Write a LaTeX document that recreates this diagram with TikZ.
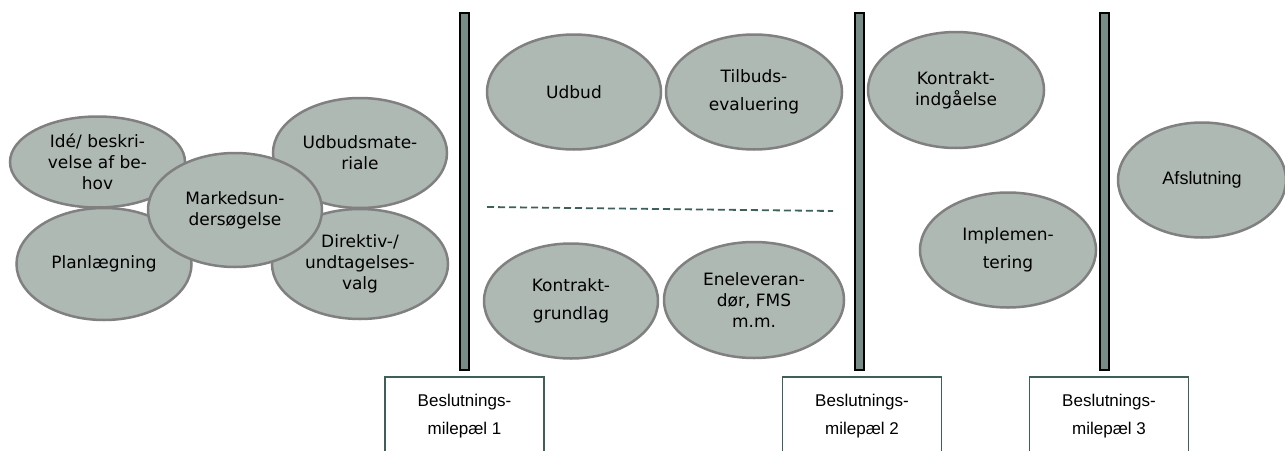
\documentclass[tikz,border=0pt]{standalone}
\usepackage{fontspec}
\setmainfont{DejaVu Sans}
\newfontfamily\boxfont{Liberation Sans}
\usetikzlibrary{shapes.geometric}
\definecolor{phasefill}{HTML}{AEB9B4}
\definecolor{phaseline}{HTML}{808080}
\definecolor{barfill}{HTML}{778C86}
\definecolor{milegreen}{HTML}{3F5F5B}

\begin{document}
\begin{tikzpicture}[x=1pt,y=-1pt,
    phase/.style={ellipse,draw=phaseline,line width=2.5pt,fill=phasefill,inner sep=0pt,
      align=center,font=\fontsize{17}{21}\selectfont},
    gate/.style={draw=black,line width=1.2pt,fill=barfill,minimum width=9pt,minimum height=357pt,inner sep=0pt},
    milebox/.style={draw=milegreen,line width=1.5pt,fill=white,minimum width=159pt,minimum height=78pt,
      align=center,font=\boxfont\fontsize{17}{28}\selectfont}]
    \clip (0,0) rectangle (1285,450);
    % phase 1 before milestone 1
    \node[phase,minimum width=175pt,minimum height=91pt] (ide) at (97.5,162) {Idé/ beskri-\\velse af be-\\hov};
    \node[phase,minimum width=175pt,minimum height=112pt] (plan) at (104,264) {Planlægning};
    \node[phase,minimum width=174pt,minimum height=110pt] (udbmat) at (360,153) {Udbudsmate-\\riale};
    \node[phase,minimum width=176pt,minimum height=110pt] (direktiv) at (360,264) {Direktiv-/\\undtagelses-\\valg};
    \node[phase,minimum width=174pt,minimum height=114pt] (marked) at (235,210) {Markedsun-\\dersøgelse};
    % the three decision gates
    \node[gate] (gate1) at (464.5,191.5) {};
    \node[gate] (gate2) at (859.5,191.5) {};
    \node[gate] (gate3) at (1104.5,191.5) {};
    \node[milebox] (mile1) at (464.5,416) {Beslutnings-\\milepæl 1};
    \node[milebox] (mile2) at (862,416) {Beslutnings-\\milepæl 2};
    \node[milebox] (mile3) at (1109,416) {Beslutnings-\\milepæl 3};
    % phase 2: tender or direct award
    \node[phase,minimum width=174pt,minimum height=115pt] (udbud) at (574,92) {Udbud};
    \node[phase,minimum width=176pt,minimum height=115pt] (tilbud) at (754,92) {Tilbuds-\\[7pt]evaluering};
    \node[phase,minimum width=174pt,minimum height=115pt] (grundlag) at (571,301) {Kontrakt-\\[7pt]grundlag};
    \node[phase,minimum width=180pt,minimum height=116pt] (enelev) at (754,300) {Eneleveran-\\dør, FMS\\m.m.};
    \coordinate (splitL) at (487,207);
    \coordinate (splitR) at (833,211);
    \draw[milegreen,line width=1.8pt,dash pattern=on 7pt off 4pt] (splitL) -- (splitR);
    % phase 3 and closing
    \node[phase,minimum width=176pt,minimum height=116pt] (indgaa) at (956,90) {Kontrakt-\\indgåelse};
    \node[phase,minimum width=176pt,minimum height=115pt] (impl) at (1008,250) {Implemen-\\[7pt]tering};
    \node[phase,minimum width=168pt,minimum height=115pt,font=\boxfont\fontsize{18}{22}\selectfont] (afslut) at (1202,180) {Afslutning};
\end{tikzpicture}
\end{document}
